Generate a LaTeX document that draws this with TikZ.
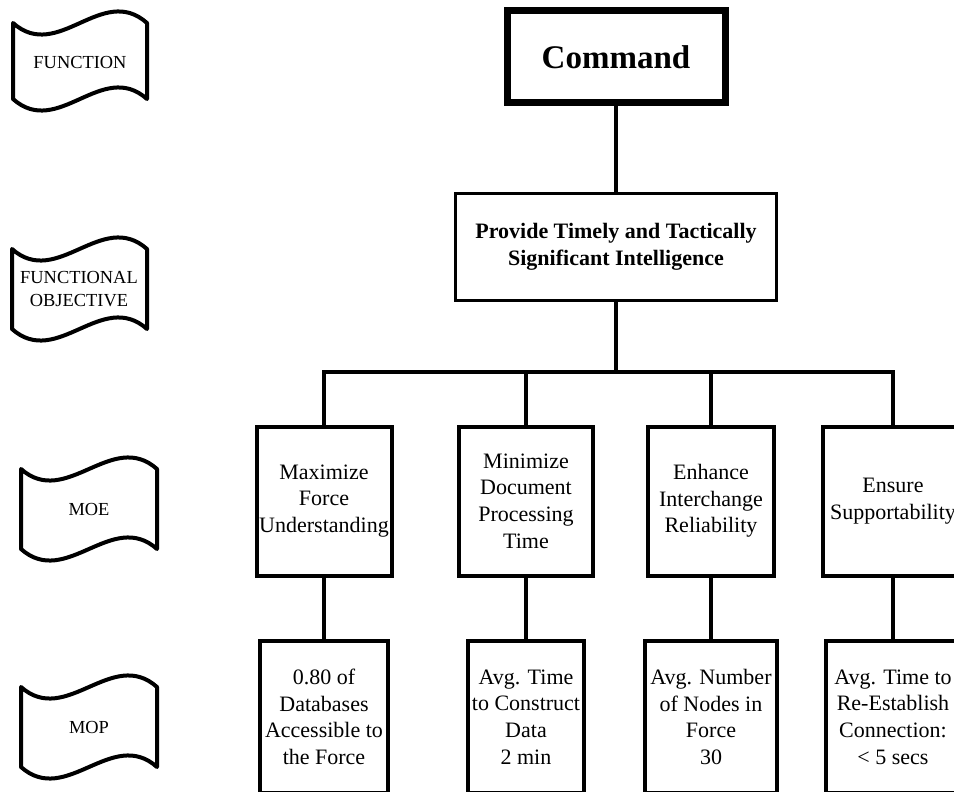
\documentclass[tikz,border=0pt]{standalone}
\usepackage{fontspec}
\setmainfont{Liberation Serif}

\begin{document}
\begin{tikzpicture}[x=1pt, y=-1pt,
    cmdbox/.style={draw, line width=7pt, minimum width=218pt, minimum height=92pt, inner sep=0pt, font=\fontsize{33}{40}\selectfont\bfseries},
    objbox/.style={draw, line width=3.5pt, minimum width=321pt, minimum height=107pt, inner sep=0pt, align=center, font=\fontsize{22}{26.7}\selectfont\bfseries},
    moebox/.style={draw, line width=4pt, minimum height=149pt, inner sep=0pt, align=center, font=\fontsize{22}{26.7}\selectfont},
    mopbox/.style={draw, line width=4pt, minimum height=152pt, inner sep=0pt, align=center, font=\fontsize{22}{26.7}\selectfont},
    link/.style={line width=4pt},
    flag/.style={line width=4pt, line join=round},
    flagtext/.style={align=center, font=\fontsize{18.4}{23}\selectfont}]

    \useasboundingbox (0,0) rectangle (954,792);
    \clip (0,0) rectangle (954,792);

    % Level labels on the left
    \draw[flag] (13,23) .. controls (58,63) and (102,-17) .. (147,23) -- (147,99) .. controls (102,59) and (58,139) .. (13,99) -- cycle;
    \node[flagtext] (lfn) at (80,62) {FUNCTION};
    \draw[flag] (12,249) .. controls (57,289) and (102,209) .. (147,249) -- (147,329) .. controls (102,289) and (57,369) .. (12,329) -- cycle;
    \node[flagtext] (lobj) at (79,289) {FUNCTIONAL\\OBJECTIVE};
    \draw[flag] (21,469) .. controls (66,509) and (112,429) .. (157,469) -- (157,549) .. controls (112,509) and (66,589) .. (21,549) -- cycle;
    \node[flagtext] (lmoe) at (89,509) {MOE};
    \draw[flag] (21,687) .. controls (66,727) and (112,647) .. (157,687) -- (157,767) .. controls (112,727) and (66,807) .. (21,767) -- cycle;
    \node[flagtext] (lmop) at (89,727) {MOP};

    % Function and objective
    \node[cmdbox] (cmd) at (616,57) {Command};
    \node[objbox] (obj) at (616,247) {Provide Timely and Tactically\\Significant Intelligence};
    \coordinate (bar) at (616,372);

    % MOE boxes
    \node[moebox, minimum width=135pt] (moe1) at (324,501) {Maximize\\Force\\Understanding};
    \node[moebox, minimum width=134pt] (moe2) at (526,501) {Minimize\\Document\\Processing\\Time};
    \node[moebox, minimum width=126pt] (moe3) at (711,501) {Enhance\\Interchange\\Reliability};
    \node[moebox, minimum width=140pt] (moe4) at (893,501) {Ensure\\Supportability};

    % MOP boxes
    \node[mopbox, minimum width=128pt] (mop1) at (324,717) {0.80 of\\Databases\\Accessible to\\the Force};
    \node[mopbox, minimum width=116pt] (mop2) at (526,717) {Avg. Time\\to Construct\\Data\\2 min};
    \node[mopbox, minimum width=132pt] (mop3) at (711,717) {Avg. Number\\of Nodes in\\Force\\30};
    \node[mopbox, minimum width=134pt] (mop4) at (893,717) {Avg. Time to\\Re-Establish\\Connection:\\< 5 secs};

    % Tree lines
    \draw[link] (cmd) -- (obj); % Command to objective
    \draw[link] (obj) -- (bar); % Objective down to the bar
    \draw[link] (bar) -| (moe1);
    \draw[link] (bar) -| (moe2);
    \draw[link] (bar) -| (moe3);
    \draw[link] (bar) -| (moe4);
    % Each MOE to its MOP
    \draw[link] (moe1) -- (mop1);
    \draw[link] (moe2) -- (mop2);
    \draw[link] (moe3) -- (mop3);
    \draw[link] (moe4) -- (mop4);
\end{tikzpicture}
\end{document}
